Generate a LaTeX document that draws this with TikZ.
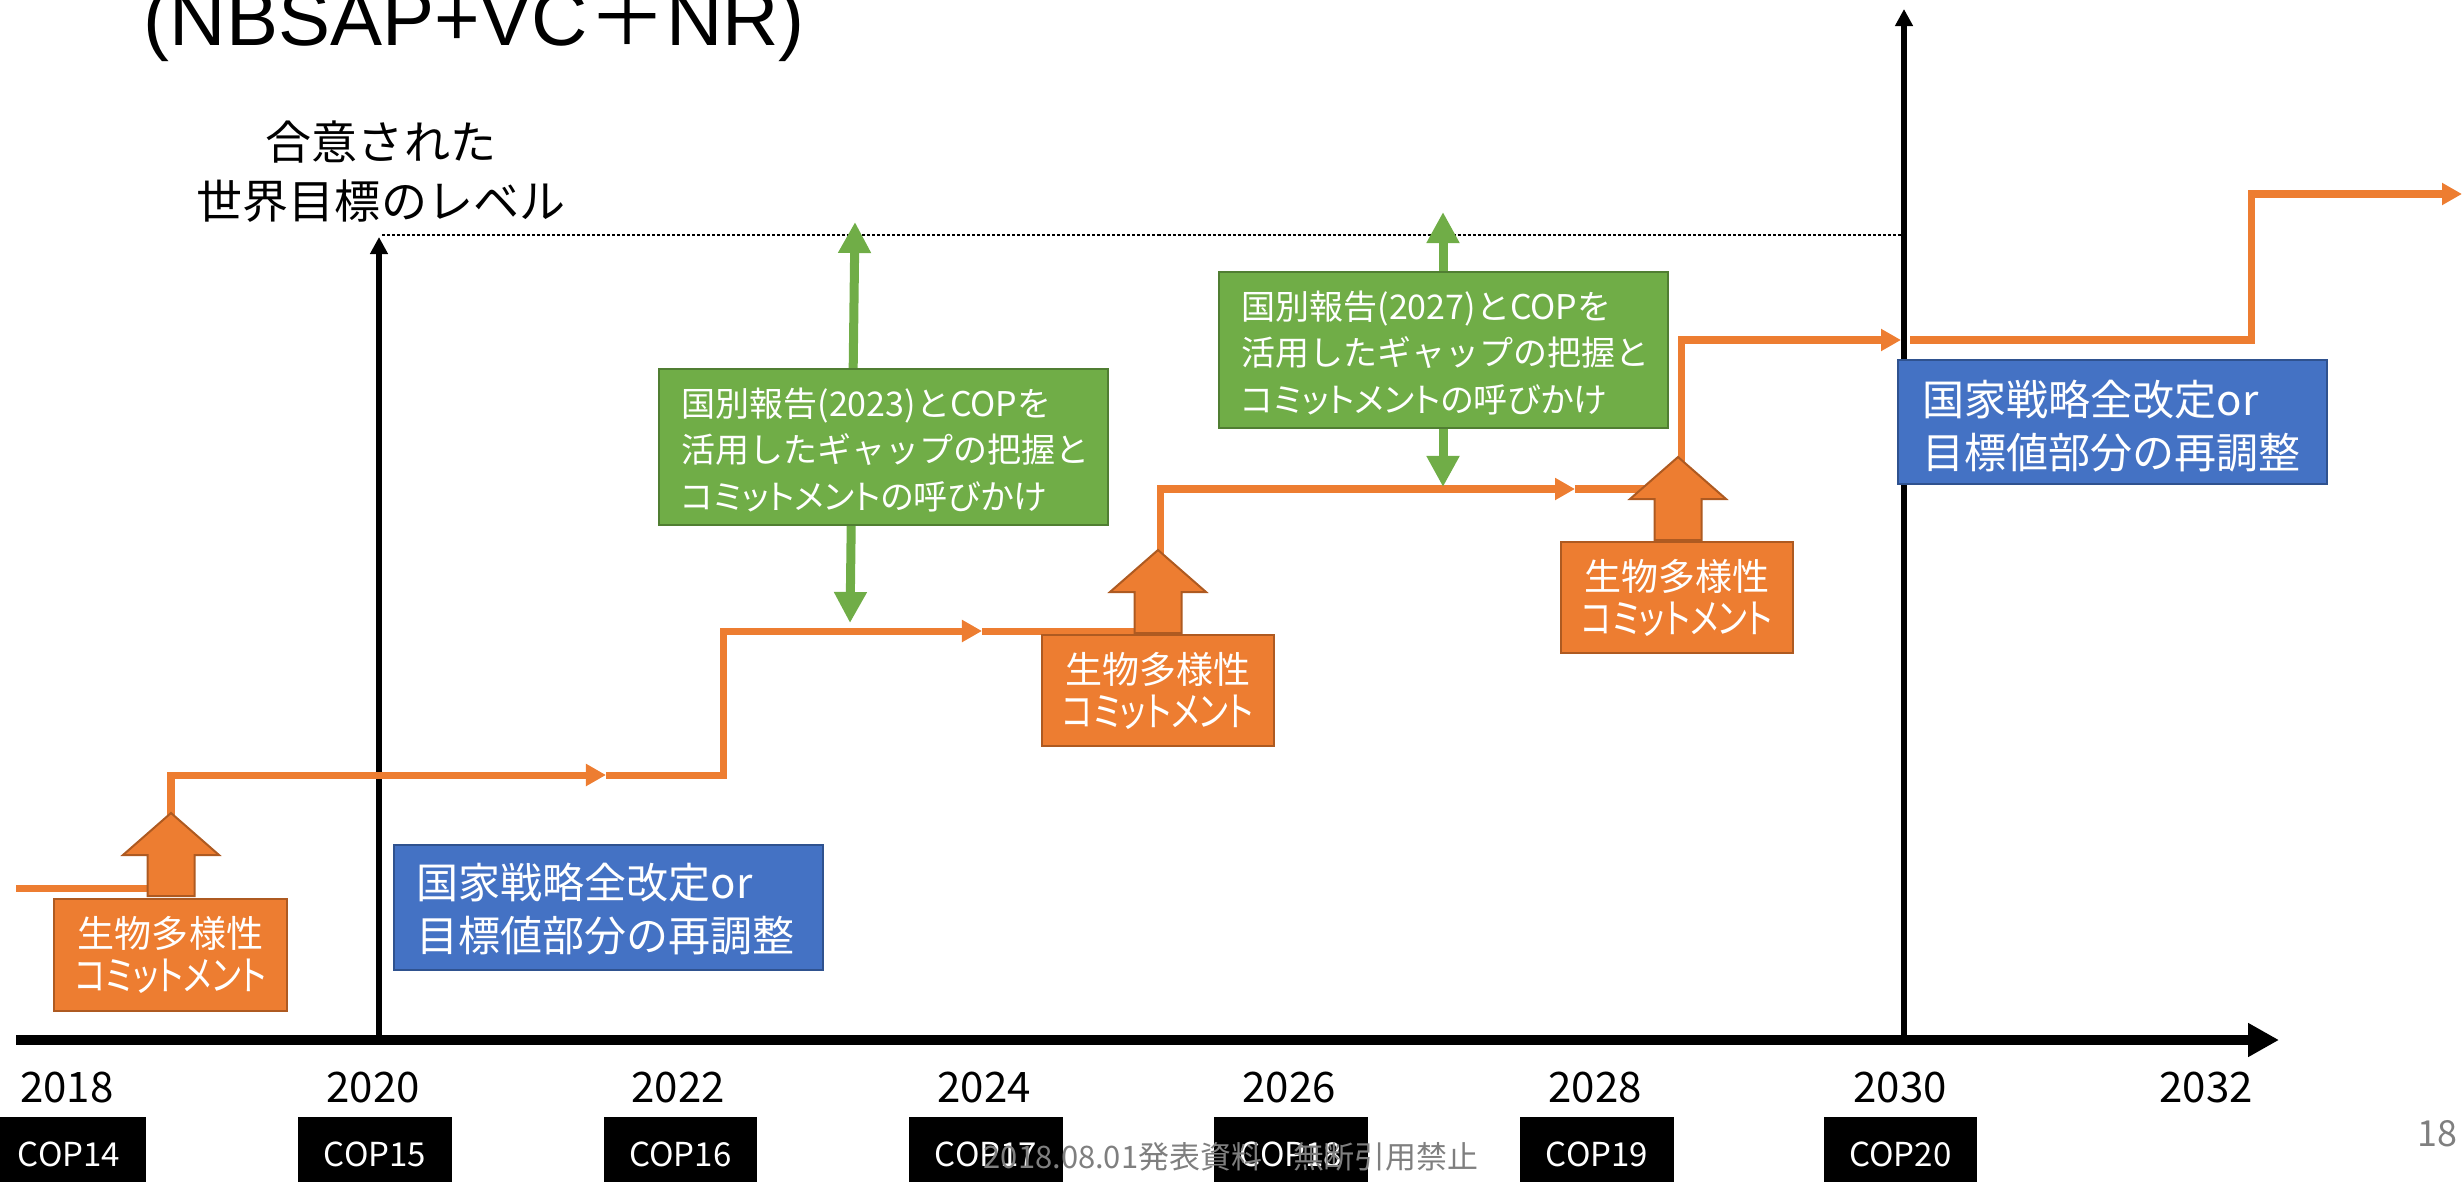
\documentclass[tikz,border=0pt]{standalone}
\usepackage{fontspec}
\setmainfont{Noto Sans CJK JP}
\newfontfamily\paltfont[RawFeature=+palt]{Noto Sans CJK JP}
\newfontfamily\arialfont{Liberation Sans}
\newfontfamily\jpfont{Noto Sans CJK JP}
\usetikzlibrary{arrows.meta}
\definecolor{orangeF}{HTML}{ED7D31}
\definecolor{orangeD}{HTML}{AE5A21}
\definecolor{greenF}{HTML}{70AD47}
\definecolor{greenD}{HTML}{507E32}
\definecolor{blueF}{HTML}{4472C4}
\definecolor{blueD}{HTML}{2F528F}
\definecolor{footgray}{HTML}{7F7F7F}
\newcommand\fatup[2]{\draw[fatarr] (#1,#2) -- ++(48,42) -- ++(-24.5,0) -- ++(0,41) -- ++(-47,0) -- ++(0,-41) -- ++(-24.5,0) -- cycle;}
\newcommand\commit{生物多様性\\\scalebox{0.88}[1.1]{コミットメント}}
\newcommand\gaptext[1]{国別報告(#1)とCOPを\\活用したギャップの把握と\\{\paltfont コミットメントの呼びかけ}}
\begin{document}
\begin{tikzpicture}[x=0.01cm,y=-0.01cm,
  stepline/.style={draw=orangeF, line width=0.07cm},
  steparrow/.style={stepline, -{Triangle[length=0.2cm,width=0.21cm]}},
  obox/.style={draw=orangeD, line width=0.02cm, fill=orangeF, text=white, minimum width=2.32cm, minimum height=1.11cm, align=center, inner sep=0pt, font=\paltfont\fontsize{10.53pt}{12.23pt}\selectfont},
  fatarr/.style={draw=orangeD, line width=0.02cm, fill=orangeF},
  gbox/.style={draw=greenD, line width=0.02cm, fill=greenF, minimum width=4.49cm, minimum height=1.56cm, inner sep=0pt},
  gtext/.style={text=white, align=left, anchor=west, inner sep=0pt, font=\fontsize{9.67pt}{13.09pt}\selectfont},
  garrow/.style={draw=greenF, line width=0.09cm, {Triangle[length=0.31cm,width=0.31cm]}-{Triangle[length=0.31cm,width=0.31cm]}},
  bbox/.style={draw=blueD, line width=0.02cm, fill=blueF, minimum width=4.29cm, minimum height=1.24cm, inner sep=0pt},
  btext/.style={text=white, align=left, anchor=west, inner sep=0pt, font=\fontsize{11.95pt}{15.08pt}\selectfont},
  yearlbl/.style={font=\fontsize{11.95pt}{14pt}\selectfont, inner sep=0pt},
  copbox/.style={fill=black, text=white, minimum width=1.53cm, minimum height=0.74cm, inner sep=0pt, font=\fontsize{9.39pt}{11pt}\selectfont},
  vaxis/.style={draw=black, line width=0.06cm, -{Triangle[length=0.17cm,width=0.17cm]}},
  haxis/.style={draw=black, line width=0.1cm, -{Triangle[length=0.31cm,width=0.32cm]}},
  levelline/.style={draw=black, line width=0.015cm, dash pattern=on 0.03cm off 0.02cm}
]
\useasboundingbox (0,0) rectangle (2463,1182);
\clip (0,0) rectangle (2463,1182);

% level of agreed global target
\coordinate (dl) at (382,235);
\coordinate (dr) at (1904,235);
\draw[levelline] (dl) -- (dr);

% vertical year markers
\coordinate (v20b) at (379,1040);
\coordinate (v20t) at (379,237);
\coordinate (v30b) at (1904,1040);
\coordinate (v30t) at (1904,9);
\draw[vaxis] (v20b) -- (v20t);
\draw[vaxis] (v30b) -- (v30t);

% orange step line
\coordinate (s0) at (16,888);
\coordinate (s1) at (171,775);
\coordinate (s1e) at (606,775);
\coordinate (s2) at (723,631);
\coordinate (s2e) at (982,631);
\coordinate (s3) at (1160,489);
\coordinate (s3e) at (1575,489);
\coordinate (s4) at (1681,340);
\coordinate (s4e) at (1901,340);
\coordinate (s5s) at (1910,340);
\coordinate (s5) at (2251,194);
\coordinate (s5e) at (2462,194);
\draw[steparrow] (s0) -| (s1) -- (s1e);
\draw[steparrow] (s1e) -| (s2) -- (s2e);
\draw[steparrow] (s2e) -| (s3) -- (s3e);
\draw[steparrow] (s3e) -| (s4) -- (s4e);
\draw[steparrow] (s5s) -| (s5) -- (s5e);

% green double arrows
\coordinate (ga1) at (855,222);
\coordinate (ga2) at (850,623);
\coordinate (gb1) at (1443,212);
\coordinate (gb2) at (1443,487);
\draw[garrow] (ga1) -- (ga2);
\draw[garrow] (gb1) -- (gb2);

% green boxes
\node[gbox] (g1) at (883.5,447) {};
\node[gtext] (g1t) at ([xshift=0.23cm,yshift=-0.03cm]g1.west) {\gaptext{2023}};
\node[gbox] (g2) at (1443.5,350) {};
\node[gtext] (g2t) at ([xshift=0.23cm,yshift=-0.03cm]g2.west) {\gaptext{2027}};

% orange block arrows and boxes
\fatup{171}{813}
\fatup{1158}{550}
\fatup{1678}{457}
\node[obox] (o1) at (170.5,955) {\commit};
\node[obox] (o2) at (1158,690.5) {\commit};
\node[obox] (o3) at (1677,597.5) {\commit};

% blue boxes
\node[bbox] (b1) at (608.5,907.5) {};
\node[btext] (b1t) at ([xshift=0.23cm,yshift=-0.02cm]b1.west) {国家戦略全改定or\\目標値部分の再調整};
\node[bbox] (b2) at (2112.5,422) {};
\node[btext] (b2t) at ([xshift=0.25cm,yshift=-0.04cm]b2.west) {国家戦略全改定or\\目標値部分の再調整};

% time axis
\coordinate (ax0) at (16,1040);
\coordinate (ax1) at (2279,1040);
\draw[haxis] (ax0) -- (ax1);

% years
\node[yearlbl] (y18) at (67,1088) {2018};
\node[yearlbl] (y20) at (373,1088) {2020};
\node[yearlbl] (y22) at (678,1088) {2022};
\node[yearlbl] (y24) at (984,1088) {2024};
\node[yearlbl] (y26) at (1289,1088) {2026};
\node[yearlbl] (y28) at (1595,1088) {2028};
\node[yearlbl] (y30) at (1900,1088) {2030};
\node[yearlbl] (y32) at (2206,1088) {2032};

% COP boxes
\node[copbox] (c14) at (69,1154) {COP14};
\node[copbox] (c15) at (375,1154) {COP15};
\node[copbox] (c16) at (680.5,1154) {COP16};
\node[copbox] (c17) at (986,1154) {COP17};
\node[copbox] (c18) at (1291,1154) {COP18};
\node[copbox] (c19) at (1597,1154) {COP19};
\node[copbox] (c20) at (1900.5,1154) {COP20};

% texts
\node[anchor=base west, inner sep=0pt, font=\arialfont\fontsize{22.19pt}{26pt}\selectfont] (title) at (143,46) {(NBSAP+VC{\jpfont ＋}NR)};
\node[align=center, inner sep=0pt, font=\fontsize{13.09pt}{16.79pt}\selectfont] (goal) at (381,172) {合意された\\世界目標のレベル};
\node[anchor=base west, inner sep=0pt, text=footgray, font=\fontsize{8.8pt}{10pt}\selectfont] (foot) at (983,1168) {2018.08.01発表資料　無断引用禁止};
\node[anchor=base east, inner sep=0pt, text=footgray, font=\fontsize{10.2pt}{12pt}\selectfont] (page) at (2458,1146) {18};
\end{tikzpicture}
\end{document}
